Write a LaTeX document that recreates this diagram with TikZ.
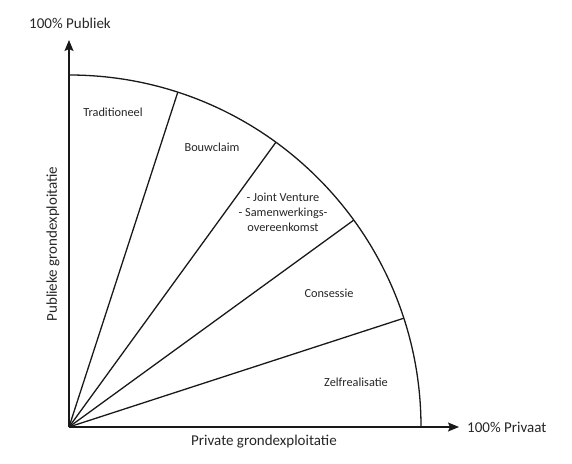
\documentclass[tikz,border=0pt]{standalone}
\usepackage{fontspec}
\setmainfont{Carlito}
\usetikzlibrary{arrows.meta}
\begin{document}
\begin{tikzpicture}[x=1pt,y=1pt,
  line/.style={line width=1.3pt, black!90},
  axis/.style={line width=1.4pt, black!90, -{Stealth[length=11pt,width=9pt,inset=2pt]}},
  lab/.style={font=\fontsize{12.3}{15}\selectfont, text=black!85, align=center, inner sep=0pt},
  axlab/.style={font=\fontsize{15}{18}\selectfont, text=black!85, inner sep=0pt}]
\useasboundingbox (0,0) rectangle (572,463);
\coordinate (O) at (69,36);
\coordinate (ytop) at (69,423);
\coordinate (xend) at (459,36);
% arc and sector lines
\draw[line] ([shift={(0:352)}]O) arc[start angle=0,end angle=90,radius=352];
\foreach \a/\n in {18/a,36/b,54/c,72/d}{
  \coordinate (\n) at ([shift={(\a:352)}]O);
  \draw[line] (O) -- (\n);
}
\draw[axis] (O) -- (ytop);
\draw[axis] (O) -- (xend);
% labels
\node[axlab] (pub) at (70,440) {100\% Publiek};
\node[axlab,anchor=west] (priv) at (467,36) {100\% Privaat};
\node[axlab] (pgx) at (264,21) {Private grondexploitatie};
\node[axlab,rotate=90] (pug) at (53,219) {Publieke grondexploitatie};
\node[lab] (t1) at (113,351) {Traditioneel};
\node[lab] (t2) at (212,316) {Bouwclaim};
\node[lab] (t3) at (283,251) {- Joint Venture\\- Samenwerkings-\\overeenkomst};
\node[lab] (t4) at (329,170) {Consessie};
\node[lab] (t5) at (356,81) {Zelfrealisatie};
\end{tikzpicture}
\end{document}
